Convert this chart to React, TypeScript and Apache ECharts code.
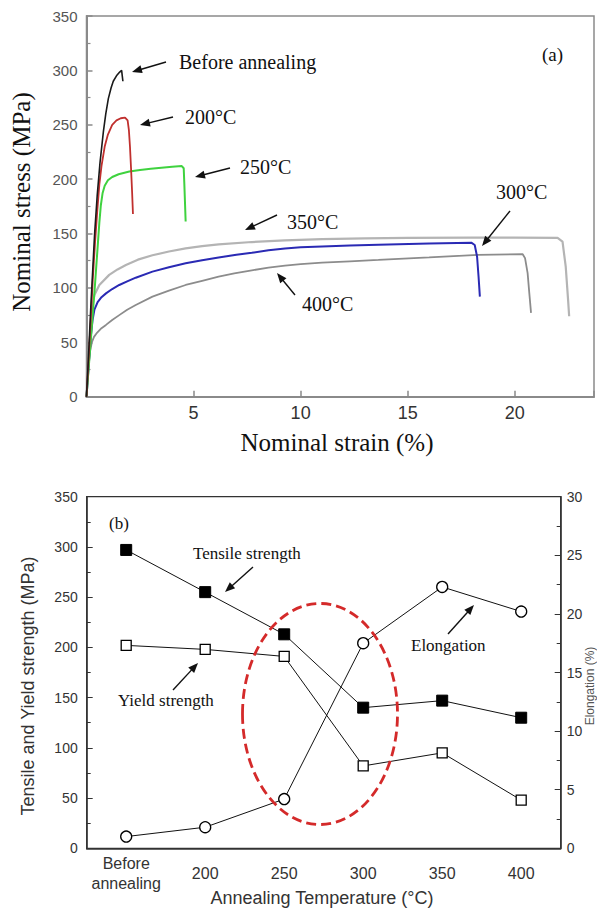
import React, { useEffect, useRef } from "react";
import * as echarts from "echarts";

// ---------- Panel (a): stress-strain curves [strain %, stress MPa] ----------
const curveBefore: [number, number][] = [[0,0],[0.1,40],[0.2,82],[0.3,120],[0.38,150],[0.5,185],[0.63,215],[0.79,244],[0.9,260],[1.02,274],[1.15,284],[1.25,290],[1.4,295],[1.55,298.5],[1.64,300],[1.67,295],[1.7,290]];
const curve200: [number, number][] = [[0,0],[0.1,35],[0.2,72],[0.3,110],[0.4,142],[0.5,170],[0.6,195],[0.7,212],[0.85,230],[1.0,241],[1.2,250],[1.4,254],[1.6,256],[1.8,256.5],[1.92,254],[1.98,245],[2.03,230],[2.08,210],[2.13,188],[2.17,168]];
const curve250: [number, number][] = [[0,0],[0.1,26],[0.2,52],[0.3,78],[0.4,104],[0.5,132],[0.6,160],[0.67,176],[0.75,187],[0.85,194],[1.0,199],[1.2,202],[1.5,204.5],[2.0,207],[2.5,208.5],[3.0,209.5],[3.5,210.5],[4.0,211.5],[4.45,212],[4.54,210],[4.57,195],[4.6,178],[4.63,161]];
const curve300: [number, number][] = [[0,0],[0.1,28],[0.2,55],[0.28,70],[0.37,80],[0.52,87],[0.7,91.5],[0.91,95],[1.2,99],[1.53,102.7],[1.9,106],[2.3,109.4],[3.08,115],[3.85,119],[4.63,122.6],[5.4,125.5],[6.17,128],[7.0,130.5],[7.72,132.3],[8.5,134.6],[9.27,136.3],[10,137.3],[11,138.2],[12.3,139],[13.63,139.6],[16,140.8],[17.97,141.6],[18.13,139.5],[18.24,128.7],[18.31,110],[18.37,92]];
const curve350: [number, number][] = [[0,0],[0.1,33],[0.2,65],[0.28,84],[0.37,93.5],[0.6,102.7],[1.06,112],[1.45,117],[1.84,121],[2.4,126],[3.08,130],[3.85,133.5],[4.63,136.4],[5.4,138.5],[6.17,140],[7.72,142.2],[9.27,143.8],[11,144.9],[13,145.6],[15,146],[18,146.3],[20,146.3],[22.0,146],[22.23,142.5],[22.38,119.5],[22.49,89],[22.54,74]];
const curve400: [number, number][] = [[0,0],[0.05,18],[0.1,31],[0.17,42],[0.25,50],[0.35,55],[0.5,59],[0.7,63],[0.91,66],[1.2,70.5],[1.53,75],[1.9,80],[2.3,84.3],[3.08,92],[3.85,97.5],[4.63,102.7],[5.4,106.5],[6.17,110.3],[6.9,113.3],[7.72,116.2],[8.5,118.6],[9.27,120.6],[10,121.9],[11,123.2],[12.3,124.5],[13.63,125.7],[16,128],[18.28,130.3],[20.37,131],[20.48,127.4],[20.6,113.6],[20.68,95],[20.76,77]];

// ---------- Panel (b): properties vs annealing temperature ----------
const temperatures = ["Before\nannealing", "200", "250", "300", "350", "400"];
const tensileStrength = [297, 255, 213, 140, 147, 130];
const yieldStrength = [202, 198, 191, 82, 95, 48];
const elongation = [1.0, 1.8, 4.2, 17.5, 22.3, 20.2];

const SERIF = "'Times New Roman', 'Liberation Serif', serif";
const SANS = "Arial, 'Liberation Sans', sans-serif";

function arrow(x1: number, y1: number, x2: number, y2: number) {
  const dx = x2 - x1, dy = y2 - y1;
  const len = Math.sqrt(dx * dx + dy * dy);
  const ux = dx / len, uy = dy / len;
  const hl = 10, hw = 4;
  const bx = x2 - ux * hl, by = y2 - uy * hl;
  const px = -uy, py = ux;
  return [
    { type: "line", z: 50, shape: { x1, y1, x2: bx + ux * 2, y2: by + uy * 2 }, style: { stroke: "#111", lineWidth: 1.4 } },
    { type: "polygon", z: 50, shape: { points: [[x2, y2], [bx + px * hw, by + py * hw], [bx - px * hw, by - py * hw]] }, style: { fill: "#111" } },
  ];
}

function label(text: string, x: number, y: number, size: number, family = SERIF) {
  return {
    type: "text", z: 50, x, y,
    style: { text, fontSize: size, fontFamily: family, fill: "#111", align: "left", verticalAlign: "middle" },
  };
}

export default function App() {
  const ref = useRef<HTMLDivElement>(null);
  useEffect(() => {
    if (!ref.current) return;
    const chart = echarts.init(ref.current, undefined, { renderer: "svg" });
    const topAxisColor = "#8a8a8a";
    const botAxisColor = "#333";
    const lineSeries = (data: [number, number][], color: string, width = 1.8) => ({
      type: "line", xAxisIndex: 0, yAxisIndex: 0, data, showSymbol: false, symbol: "none",
      lineStyle: { color, width }, silent: true,
    });
    const option: any = {
      animation: false,
      backgroundColor: "#fff",
      grid: [
        { left: 86.5, top: 16, width: 509.5, height: 380.7, show: true, borderColor: topAxisColor, borderWidth: 1.5, containLabel: false },
        { left: 86.7, top: 496.7, width: 474, height: 351.6, show: true, borderColor: botAxisColor, borderWidth: 1.3, containLabel: false },
      ],
      xAxis: [
        {
          type: "value", gridIndex: 0, min: 0, max: 23.7, interval: 5,
          axisLine: { lineStyle: { color: topAxisColor, width: 2 } },
          axisTick: { inside: true, length: 6, lineStyle: { color: topAxisColor, width: 1.5 } },
          axisLabel: {
            margin: 7, fontSize: 18, color: "#333", fontFamily: SANS,
            formatter: (v: number) => (v > 0 && Math.abs(v % 5) < 1e-6 ? String(v) : ""),
          },
          splitLine: { show: false },
        },
        {
          type: "category", gridIndex: 1, data: temperatures, boundaryGap: true,
          axisLine: { lineStyle: { color: botAxisColor, width: 1.5 } },
          axisTick: { show: false },
          axisLabel: { margin: 25, fontSize: 16, color: "#333", fontFamily: SANS, verticalAlign: "middle", lineHeight: 20, interval: 0 },
          splitLine: { show: false },
        },
      ],
      yAxis: [
        {
          type: "value", gridIndex: 0, min: 0, max: 350, interval: 50,
          axisLine: { show: true, lineStyle: { color: topAxisColor, width: 2 } },
          axisTick: { show: true, inside: true, length: 6, lineStyle: { color: topAxisColor, width: 1.5 } },
          minorTick: { show: true, splitNumber: 2, length: 4, lineStyle: { color: topAxisColor, width: 1.2 } },
          axisLabel: { margin: 9, fontSize: 15, color: "#555", fontFamily: SANS },
          splitLine: { show: false },
        },
        {
          type: "value", gridIndex: 1, min: 0, max: 350, interval: 50, position: "left",
          axisLine: { show: true, lineStyle: { color: botAxisColor, width: 1.5 } },
          axisTick: { show: true, inside: true, length: 6, lineStyle: { color: botAxisColor } },
          minorTick: { show: true, splitNumber: 2, length: 4, lineStyle: { color: botAxisColor } },
          axisLabel: { margin: 9, fontSize: 14, color: "#333", fontFamily: SANS },
          splitLine: { show: false },
        },
        {
          type: "value", gridIndex: 1, min: 0, max: 30, interval: 5, position: "right",
          axisLine: { show: true, lineStyle: { color: botAxisColor, width: 1.5 } },
          axisTick: { show: true, inside: true, length: 6, lineStyle: { color: botAxisColor } },
          minorTick: { show: true, splitNumber: 2, length: 4, lineStyle: { color: botAxisColor } },
          axisLabel: { margin: 6, fontSize: 14, color: "#333", fontFamily: SANS },
          splitLine: { show: false },
        },
      ],
      series: [
        lineSeries(curve400, "#8c8c8c", 1.8),
        lineSeries(curve350, "#b4b4b4", 2.2),
        lineSeries(curve300, "#2a2ab4", 2),
        lineSeries(curve250, "#3fd23f", 2),
        lineSeries(curve200, "#c0302e", 1.8),
        lineSeries(curveBefore, "#1a1a1a", 1.6),
        {
          type: "line", xAxisIndex: 1, yAxisIndex: 1, data: tensileStrength, symbol: "rect", symbolSize: 11,
          lineStyle: { color: "#111", width: 1 }, itemStyle: { color: "#000", borderColor: "#000", borderWidth: 1 },
        },
        {
          type: "line", xAxisIndex: 1, yAxisIndex: 1, data: yieldStrength, symbol: "rect", symbolSize: 10,
          lineStyle: { color: "#111", width: 1 }, itemStyle: { color: "#fff", borderColor: "#000", borderWidth: 1.3 },
        },
        {
          type: "line", xAxisIndex: 1, yAxisIndex: 2, data: elongation, symbol: "circle", symbolSize: 11,
          lineStyle: { color: "#111", width: 1 }, itemStyle: { color: "#fff", borderColor: "#000", borderWidth: 1.3 },
        },
      ],
      graphic: [
        // Panel (a) annotations
        label("Before annealing", 179, 62, 20),
        ...arrow(166, 62, 132, 72),
        label("200°C", 185, 117, 20),
        ...arrow(173, 117, 140, 125),
        label("250°C", 240, 167, 20),
        ...arrow(230, 168, 195, 177),
        label("350°C", 287, 222, 20),
        ...arrow(277, 215, 245, 230),
        label("300°C", 496, 192, 20),
        ...arrow(510, 211, 482, 246),
        label("400°C", 302, 304, 20),
        ...arrow(295, 295, 277, 273),
        label("(a)", 542, 54, 19),
        {
          type: "text", z: 50, x: 337, y: 442,
          style: { text: "Nominal strain (%)", fontSize: 25, fontFamily: SERIF, fill: "#111", align: "center", verticalAlign: "middle" },
        },
        {
          type: "text", z: 50, x: 21, y: 202, rotation: Math.PI / 2,
          style: { text: "Nominal stress (MPa)", fontSize: 25, fontFamily: SERIF, fill: "#111", align: "center", verticalAlign: "middle" },
        },
        // Panel (b) annotations
        {
          type: "ellipse", z: 40, shape: { cx: 320, cy: 714, rx: 77.5, ry: 110.5 },
          style: { fill: "none", stroke: "#d42a2a", lineWidth: 2.8, lineDash: [10, 5] },
        },
        label("(b)", 109, 523, 17),
        label("Tensile strength", 193, 553, 17),
        ...arrow(253, 567, 225, 592),
        label("Yield strength", 118, 700, 17),
        ...arrow(173, 690, 198, 663),
        label("Elongation", 411, 645, 17),
        ...arrow(448, 634, 474, 605),
        {
          type: "text", z: 50, x: 322, y: 898,
          style: { text: "Annealing Temperature (°C)", fontSize: 18, fontFamily: SANS, fill: "#333", align: "center", verticalAlign: "middle" },
        },
        {
          type: "text", z: 50, x: 28, y: 686, rotation: Math.PI / 2,
          style: { text: "Tensile and Yield strength (MPa)", fontSize: 18, fontFamily: SANS, fill: "#333", align: "center", verticalAlign: "middle" },
        },
        {
          type: "text", z: 50, x: 590, y: 686, rotation: Math.PI / 2,
          style: { text: "Elongation (%)", fontSize: 12, fontFamily: SANS, fill: "#555", align: "center", verticalAlign: "middle" },
        },
      ],
    };
    chart.setOption(option);
    return () => chart.dispose();
  }, []);
  return <div ref={ref} style={{ position: "absolute", left: 0, top: 0, width: 597, height: 909, background: "#fff" }} />;
}
